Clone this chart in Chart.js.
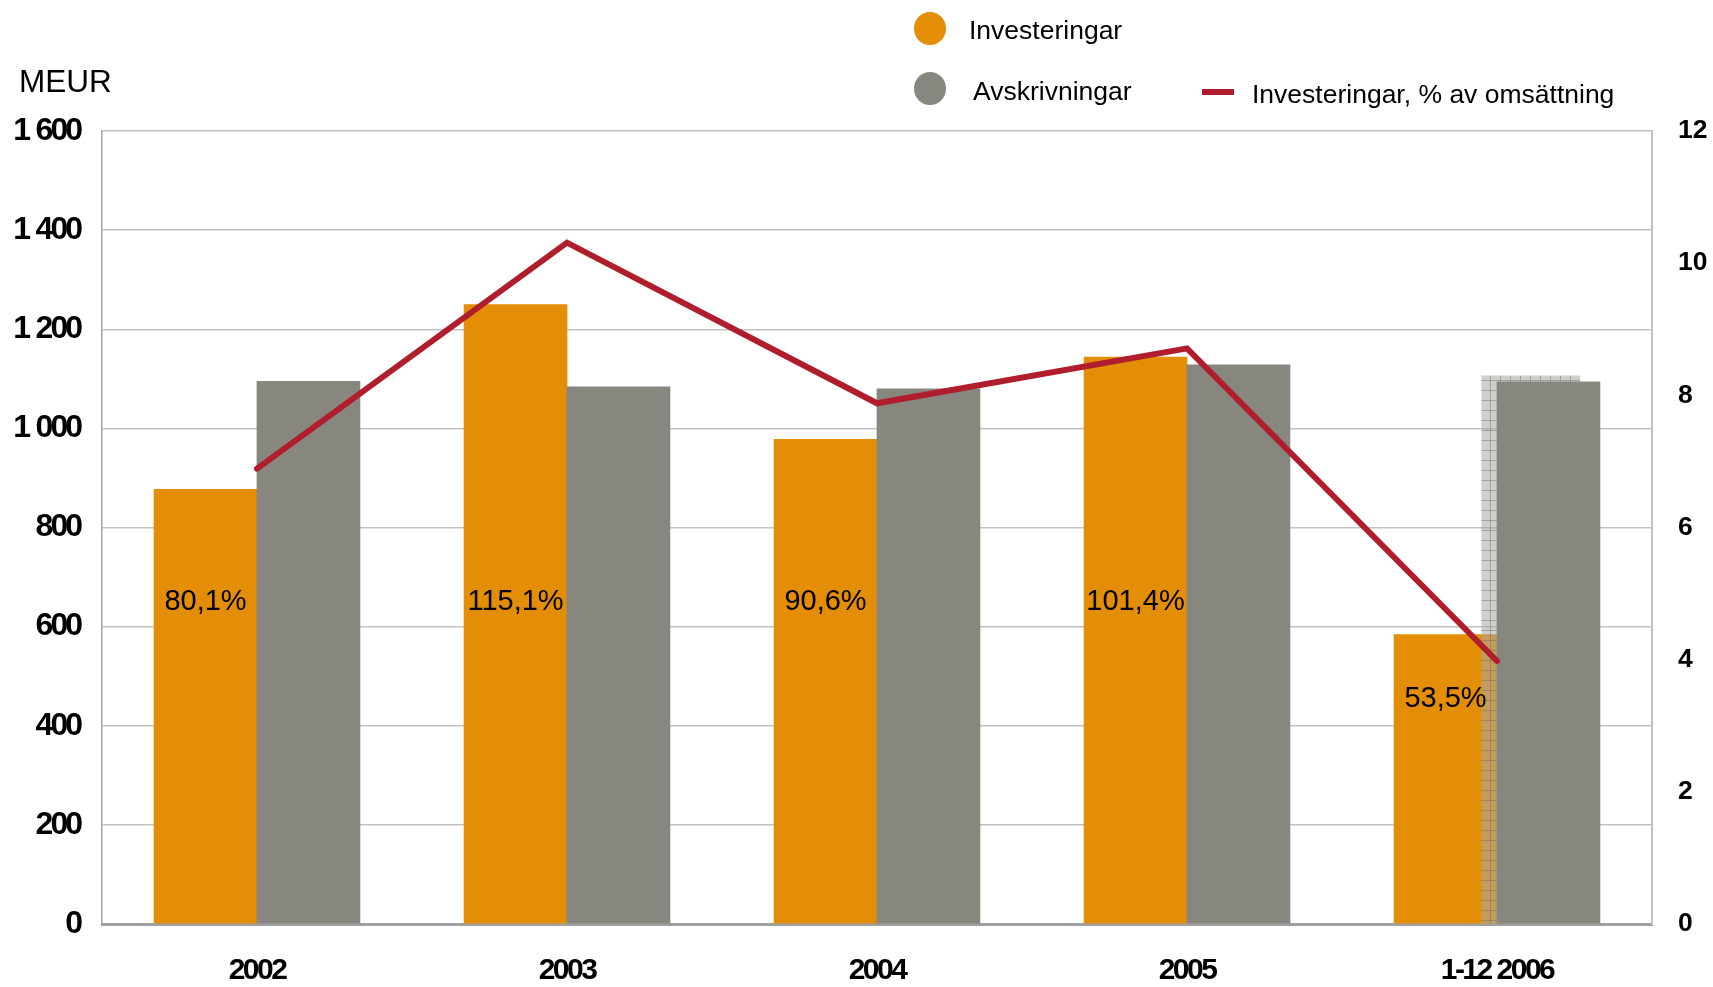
<!DOCTYPE html>
<html>
<head>
<meta charset="utf-8">
<script src="https://cdn.jsdelivr.net/npm/chart.js@4.4.1/dist/chart.umd.min.js"></script>
<style>
  html, body { margin: 0; padding: 0; background: #fff; }
  #wrap { position: relative; width: 1713px; height: 987px; font-family: "Liberation Sans", Arial, sans-serif; }
  #c { position: absolute; left: 0; top: 0; }
  .lg { position: absolute; white-space: nowrap; color: #000; font-size: 26.5px; line-height: 30px; }
  .dot { position: absolute; width: 32px; height: 33px; border-radius: 50%; }
</style>
</head>
<body>
<div id="wrap">
  <canvas id="c" width="1713" height="987"></canvas>
  <div class="dot" style="left:914px;top:12px;background:#E38E06"></div>
  <div class="lg" style="left:969px;top:15px">Investeringar</div>
  <div class="dot" style="left:914px;top:72px;background:#878780"></div>
  <div class="lg" style="left:973px;top:76px">Avskrivningar</div>
  <div style="position:absolute;left:1202px;top:89px;width:32px;height:6px;background:#B01E2D"></div>
  <div class="lg" style="left:1252px;top:79px">Investeringar, % av omsättning</div>
  <div class="lg" style="left:19px;top:64px;font-size:31.5px;line-height:34px">MEUR</div>
</div>
<script>
const categories = ['2002', '2003', '2004', '2005', '1-12 2006'];
const investeringar = [877, 1250, 978, 1144, 584];
const avskrivningar = [1095, 1084, 1080, 1128, 1094];
const prognos = [null, null, null, null, 1106];
const investPct = [6.89, 10.31, 7.88, 8.71, 3.98];
const ratioLabels = ['80,1%', '115,1%', '90,6%', '101,4%', '53,5%'];
const leftTickLabels = ['0', '200', '400', '600', '800', '1\u2004000', '1\u2004200', '1\u2004400', '1\u2004600'];
const rightTickLabels = ['0', '2', '4', '6', '8', '10', '12'];

// placement of the bars inside each category (fraction of a category)
const PAIR_SHIFT = 0.166;
const HATCH_SHIFT = 0.109;
const toPoints = (arr, shift) => arr.map((v, i) => (v == null ? null : { x: i + shift, y: v })).filter(p => p);

const canvas = document.getElementById('c');
const ctx0 = canvas.getContext('2d');

function makeHatch() {
  const p = document.createElement('canvas');
  p.width = 10; p.height = 10;
  const g = p.getContext('2d');
  g.fillStyle = 'rgba(168,168,160,0.55)';
  g.fillRect(0, 0, 10, 10);
  g.fillStyle = 'rgba(110,110,104,0.45)';
  g.fillRect(0, 0, 10, 1);
  g.fillRect(0, 0, 1, 10);
  return ctx0.createPattern(p, 'repeat');
}

const labelPlugin = {
  id: 'ratioLabels',
  afterDatasetsDraw(chart) {
    const meta = chart.getDatasetMeta(0);
    const y = chart.scales.y;
    const ctx = chart.ctx;
    ctx.save();
    ctx.font = '29px "Liberation Sans", Arial, sans-serif';
    ctx.fillStyle = '#000';
    ctx.textAlign = 'center';
    ctx.textBaseline = 'middle';
    meta.data.forEach((bar, i) => {
      const v = Math.min(650, investeringar[i] - 130);
      ctx.fillText(ratioLabels[i], bar.x, y.getPixelForValue(v));
    });
    ctx.restore();
  }
};

const condensePlugin = {
  id: 'condense',
  beforeDraw(chart) {
    const sp = { x: '-2.5px', y: '-3px' };
    Object.keys(sp).forEach(id => {
      const s = chart.scales[id];
      if (s && !s._condensed) {
        const orig = s.drawLabels;
        s.drawLabels = function (area) {
          const c = this.ctx;
          c.save();
          c.letterSpacing = sp[id];
          orig.call(this, area);
          c.restore();
        };
        s._condensed = true;
      }
    });
  }
};

const boldFont = { family: '"Liberation Sans", Arial, sans-serif', weight: 'bold' };

new Chart(canvas, {
  type: 'bar',
  data: {
    labels: categories,
    datasets: [
      { label: 'Investeringar', data: toPoints(investeringar, -PAIR_SHIFT), backgroundColor: '#E38E06', xAxisID: 'xb', yAxisID: 'y', order: 3, grouped: false, barThickness: 103 },
      { label: 'Prognos', data: toPoints(prognos, HATCH_SHIFT), backgroundColor: makeHatch(), xAxisID: 'xb', yAxisID: 'y', order: 2, grouped: false, barThickness: 98 },
      { label: 'Avskrivningar', data: toPoints(avskrivningar, PAIR_SHIFT), backgroundColor: '#878780', xAxisID: 'xb', yAxisID: 'y', order: 1, grouped: false, barThickness: 103 },
      { type: 'line', label: 'Investeringar, % av omsättning', data: investPct, borderColor: '#B01E2D', borderWidth: 6, pointRadius: 0, tension: 0, borderCapStyle: 'round', borderJoinStyle: 'miter', xAxisID: 'x', yAxisID: 'y2', order: 0 }
    ]
  },
  options: {
    responsive: false,
    animation: false,
    maintainAspectRatio: false,
    layout: { padding: { top: 131, left: 0, right: 0, bottom: 0 } },
    plugins: { legend: { display: false }, tooltip: { enabled: false } },
    scales: {
      x: {
        type: 'category', labels: categories, offset: true, position: 'bottom',
        grid: { display: false, drawTicks: false },
        border: { display: true, color: '#a0a0a0', width: 3 },
        ticks: { color: '#000', padding: 29, font: Object.assign({ size: 30 }, boldFont) },
        afterFit(s) { s.height = 63; }
      },
      xb: { type: 'linear', min: -0.5, max: 4.5, offset: false, display: false, position: 'bottom' },
      y: {
        position: 'left', min: 0, max: 1600, stacked: false,
        ticks: { stepSize: 200, color: '#000', padding: 22, font: Object.assign({ size: 32 }, boldFont),
          callback: (v, i) => leftTickLabels[i] },
        grid: { color: '#c2c2c2', lineWidth: 1.5, drawTicks: false },
        border: { display: true, color: '#a6a6a6', width: 1.5 },
        afterFit(s) { s.width = 102; }
      },
      y2: {
        position: 'right', min: 0, max: 12,
        ticks: { stepSize: 2, color: '#000', padding: 26, font: { size: 26.5, weight: 'bold', family: '"Liberation Sans", Arial, sans-serif' },
          callback: (v, i) => rightTickLabels[i] },
        grid: { display: false, drawTicks: false },
        border: { display: true, color: '#c2c2c2', width: 2 },
        afterFit(s) { s.width = 61; }
      }
    }
  },
  plugins: [labelPlugin, condensePlugin]
});
</script>
</body>
</html>
